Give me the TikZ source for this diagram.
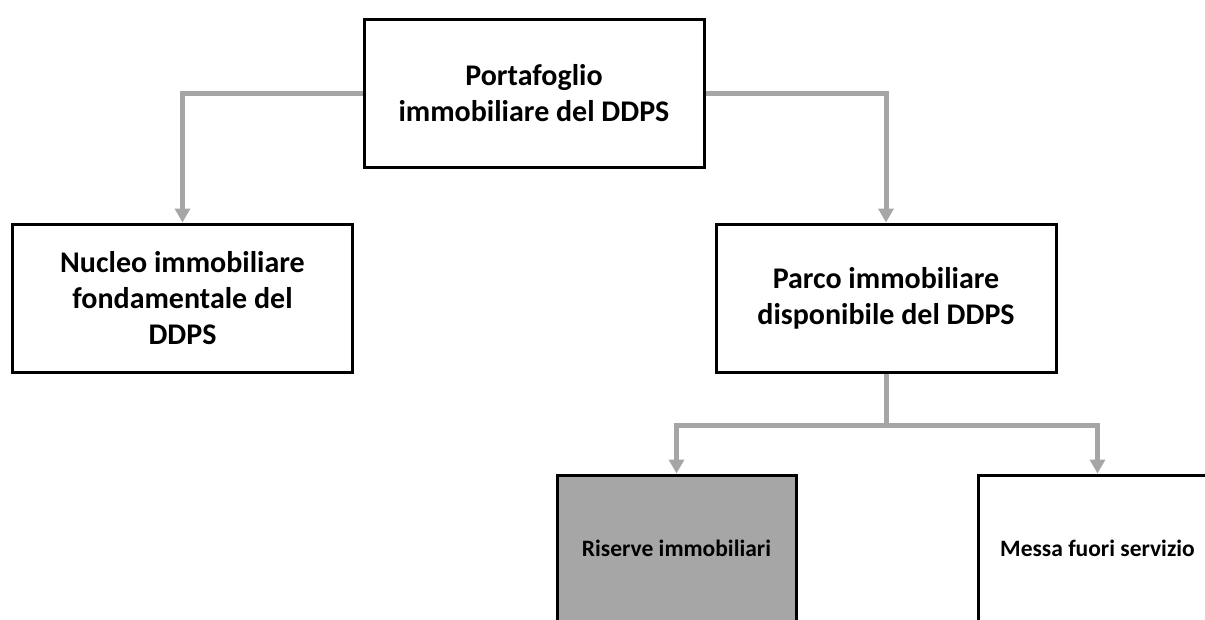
\documentclass[tikz,border=0pt]{standalone}
\usepackage{fontspec}
\setmainfont{Carlito}
\usetikzlibrary{arrows.meta,positioning}

\definecolor{linkgray}{HTML}{A6A6A6}
\definecolor{boxgray}{HTML}{A6A6A6}

\tikzset{
  bigbox/.style={draw=black, line width=3pt, fill=white, minimum width=340pt, minimum height=148pt,
    align=center, font=\fontsize{30}{36}\selectfont\bfseries, inner sep=0pt},
  smallbox/.style={draw=black, line width=3pt, fill=white, minimum width=239pt, minimum height=146pt,
    align=center, font=\fontsize{23.5}{28}\selectfont\bfseries, inner sep=0pt},
  link/.style={draw=linkgray, line width=5pt, -{Triangle[width=15pt,length=14pt]}}
}

\begin{document}
\begin{tikzpicture}[x=1pt,y=-1pt]
\useasboundingbox (0,0) rectangle (1205,619);
\clip (0,0) rectangle (1205,619);

\node[bigbox] (portafoglio) at (534,93.5) {Portafoglio\\immobiliare del DDPS};
\node[bigbox] (nucleo) at (182.5,298) {Nucleo immobiliare\\fondamentale del\\DDPS};
\node[bigbox] (parco) at (886,298) {Parco immobiliare\\disponibile del DDPS};
\node[smallbox, fill=boxgray] (riserve) at (676.5,548) {Riserve immobiliari};
\node[smallbox] (messa) at (1097.5,548) {Messa fuori servizio};

\coordinate (split) at (886,425);

\draw[link] (portafoglio.west) -| (nucleo.north);
\draw[link] (portafoglio.east) -| (parco.north);
\draw[link] (parco.south) -- (split) -| (riserve.north);
\draw[link] (split) -| (messa.north);
\end{tikzpicture}
\end{document}
